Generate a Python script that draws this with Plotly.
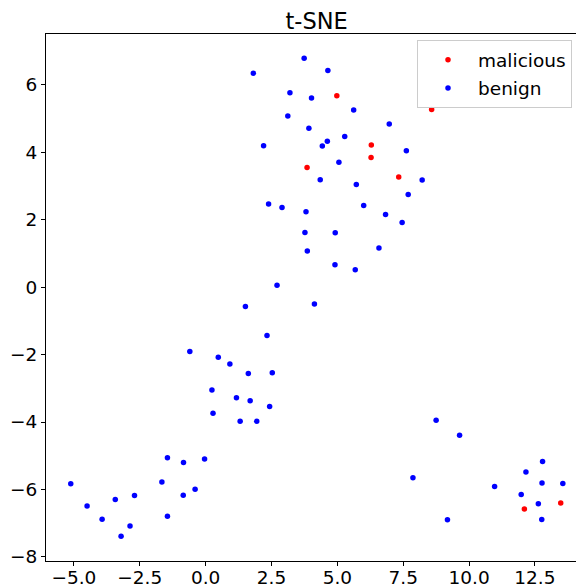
import plotly.graph_objects as go

# malicious points (red)
mal_x = [4.98, 8.58, 6.29, 6.28, 3.85, 7.33, 12.10, 13.48]
mal_y = [5.67, 5.26, 4.21, 3.84, 3.54, 3.26, -6.58, -6.40]

# benign points (blue)
ben_x = [3.74, 1.81, 4.64, 3.20, 4.02, 5.62, 3.12, 6.97, 3.92, 5.28,
         2.20, 4.62, 4.43, 7.62, 5.06, 4.35, 8.22, 5.72, 7.69, 2.39,
         2.90, 3.81, 6.00, 6.83, 7.46, 3.77, 4.92, 3.86, 6.58, 4.91,
         5.68, 2.71,
         1.51, 4.13, 2.33, -0.60, 0.48, 0.92, 1.62, 2.53, 0.24, 1.17,
         1.69, 2.43, 0.28, 1.31, 1.94, 8.75, 9.64, -1.45, -0.84, -0.04,
         7.87, -5.12, -1.66, -0.40, -0.85, -2.70, -3.43, -4.50, -1.45,
         -3.93, 9.18, -2.87, -3.21,
         10.97, 12.79, 12.16, 12.77, 13.56, 11.98, 12.63, 12.76]
ben_y = [6.78, 6.34, 6.42, 5.76, 5.60, 5.25, 5.07, 4.83, 4.71, 4.46,
         4.19, 4.32, 4.18, 4.04, 3.70, 3.18, 3.17, 3.04, 2.74, 2.46,
         2.36, 2.23, 2.42, 2.15, 1.91, 1.62, 1.61, 1.07, 1.16, 0.66,
         0.51, 0.05,
         -0.58, -0.50, -1.44, -1.91, -2.08, -2.28, -2.56, -2.54, -3.05, -3.28,
         -3.37, -3.54, -3.74, -3.98, -3.98, -3.95, -4.39, -5.06, -5.20, -5.10,
         -5.65, -5.83, -5.78, -5.99, -6.17, -6.18, -6.30, -6.49, -6.79,
         -6.88, -6.90, -7.08, -7.39,
         -5.91, -5.17, -5.48, -5.81, -5.82, -6.15, -6.42, -6.89]

FONT = "DejaVu Sans"

fig = go.Figure()
fig.add_trace(go.Scatter(x=mal_x, y=mal_y, mode="markers", name="malicious",
                         marker=dict(color="#ff0000", size=5.5, line=dict(width=0)),
                         legendgroup="m"))
fig.add_trace(go.Scatter(x=ben_x, y=ben_y, mode="markers", name="benign",
                         marker=dict(color="#0000ff", size=5.5, line=dict(width=0)),
                         legendgroup="b"))

fig.update_layout(
    width=576, height=588,
    margin=dict(l=46, r=0, t=34, b=27),
    paper_bgcolor="white", plot_bgcolor="white",
    font=dict(family=FONT, size=18.5, color="black"),
    title=dict(text="t-SNE", x=316.6 / 576, xref="container", xanchor="center",
               y=1 - 21 / 588, yref="container", yanchor="middle",
               font=dict(family=FONT, size=22.5, color="black")),
    legend=dict(x=0.70, y=0.988, xanchor="left", yanchor="top",
                bgcolor="rgba(255,255,255,0.8)", bordercolor="#cccccc", borderwidth=1,
                font=dict(family=FONT, size=18.5, color="black"),
                itemwidth=50, tracegroupgap=1),
    showlegend=True,
)
fig.update_xaxes(range=[-6.06, 14.06], showgrid=False, zeroline=False, automargin=False,
                 showline=True, linecolor="black", linewidth=1, mirror=True,
                 ticks="outside", ticklen=4, tickwidth=1, tickcolor="black",
                 ticklabelstandoff=-4,
                 dtick=2.5, tick0=0, tickformat=".1f")
fig.update_yaxes(range=[-8.12, 7.50], showgrid=False, zeroline=False, automargin=False,
                 showline=True, linecolor="black", linewidth=1, mirror=False,
                 ticks="outside", ticklen=4, tickwidth=1, tickcolor="black",
                 dtick=2, tick0=0)

fig.write_html("out.html")
